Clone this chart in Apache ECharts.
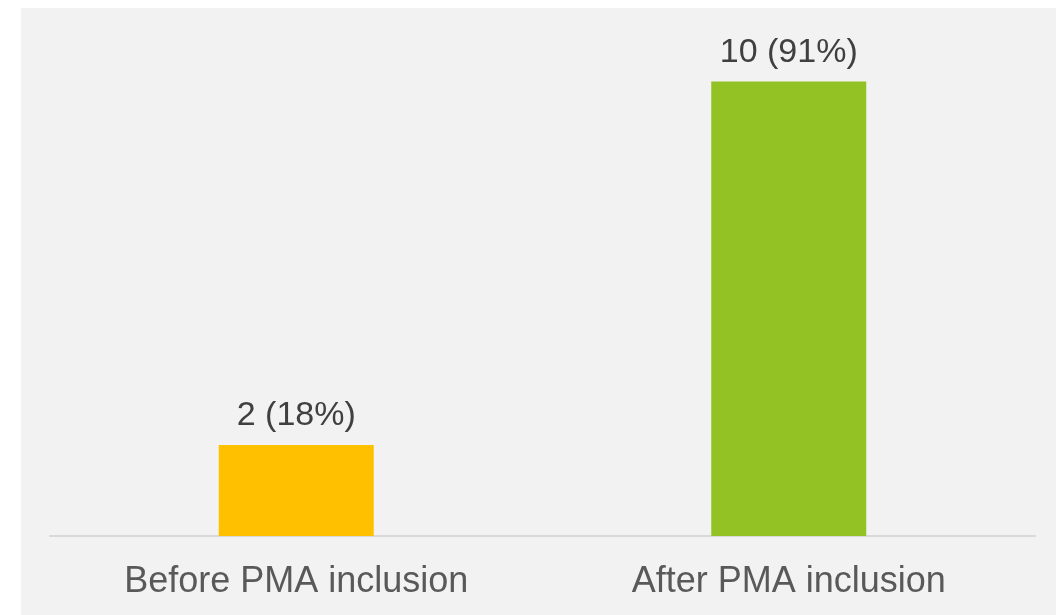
<!DOCTYPE html>
<html>
<head>
<meta charset="utf-8">
<script src="https://cdn.jsdelivr.net/npm/echarts@6/dist/echarts.min.js"></script>
<style>
  html, body { margin: 0; padding: 0; background: #ffffff; }
  #chart { position: absolute; left: 21px; top: 8px; width: 1035px; height: 607px; }
</style>
</head>
<body>
<div id="chart"></div>
<script>
// Categories and values
const categories = ['Before PMA inclusion', 'After PMA inclusion'];
const counts = [2, 10];
const percents = [18, 91];
const barColors = ['#FFC000', '#92C223'];

const chart = echarts.init(document.getElementById('chart'), null, { renderer: 'canvas' });

chart.setOption({
  backgroundColor: '#f2f2f2',
  animation: false,
  grid: { left: 29, right: 21, top: 28, bottom: 79 },
  xAxis: {
    type: 'category',
    data: categories,
    axisLine: { show: true, lineStyle: { color: '#d9d9d9', width: 2 } },
    axisTick: { show: false },
    axisLabel: {
      color: '#595959',
      fontFamily: 'Liberation Sans',
      fontSize: 36,
      margin: 28
    }
  },
  yAxis: {
    type: 'value',
    min: 0,
    max: 11,
    show: false,
    splitLine: { show: false }
  },
  series: [{
    type: 'bar',
    barWidth: 155,
    data: counts.map((v, i) => ({ value: v, itemStyle: { color: barColors[i] } })),
    label: {
      show: true,
      position: 'top',
      distance: 12,
      color: '#404040',
      fontFamily: 'Liberation Sans',
      fontSize: 34,
      formatter: p => `${counts[p.dataIndex]} (${percents[p.dataIndex]}%)`
    }
  }]
});
</script>
</body>
</html>
